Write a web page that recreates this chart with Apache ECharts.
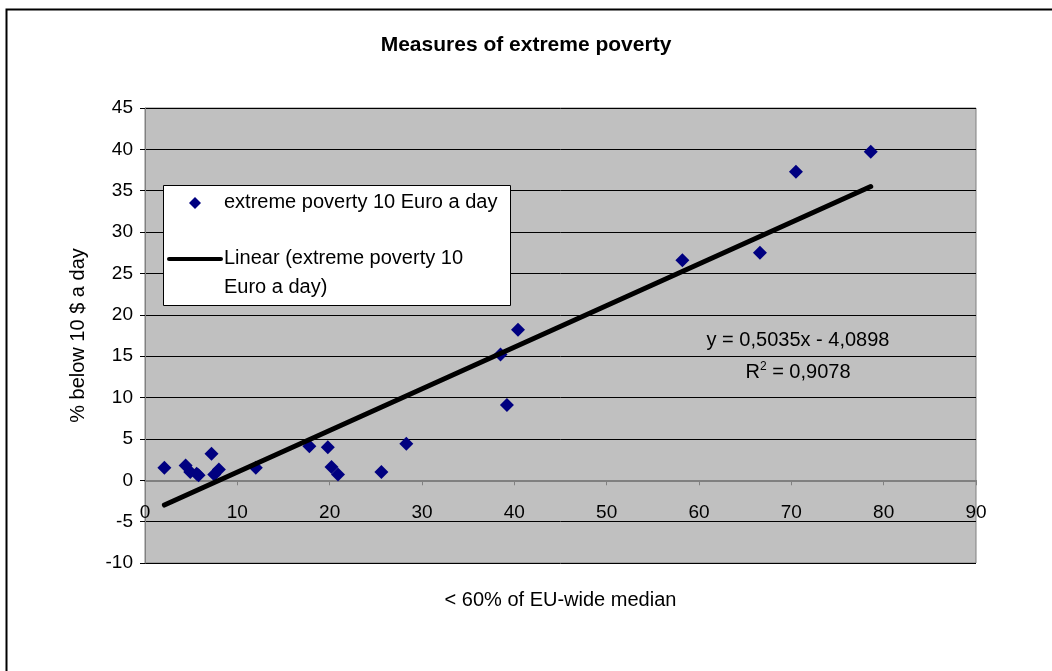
<!DOCTYPE html>
<html>
<head>
<meta charset="utf-8">
<script src="https://cdn.jsdelivr.net/npm/echarts@6/dist/echarts.min.js"></script>
<style>
  html, body { margin: 0; padding: 0; background: #fff; }
  #main { width: 1052px; height: 671px; }
</style>
</head>
<body>
<div id="main"></div>
<script>
// points: x = < 60% of EU-wide median, y = % below 10 $ a day
var povX = [2.1, 4.4, 4.9, 5.6, 5.8, 7.2, 7.5, 8.0, 12.0, 17.8, 19.8, 20.2, 20.9, 25.6, 28.3, 38.5, 39.2, 40.4, 58.2, 66.6, 70.5, 78.6];
var povY = [1.5, 1.8, 1.0, 0.8, 0.6, 3.2, 0.7, 1.3, 1.5, 4.1, 4.0, 1.6, 0.7, 1.0, 4.4, 15.2, 9.1, 18.2, 26.6, 27.5, 37.3, 39.7];
// trendline ends
var trendX = [2.1, 78.6];
var trendY = [-3.0, 35.5];

var font = 'Liberation Sans, Arial, sans-serif';
var pts = [];
for (var i = 0; i < povX.length; i++) pts.push([povX[i], povY[i]]);
var trend = [[trendX[0], trendY[0]], [trendX[1], trendY[1]]];

var myChart = echarts.init(document.getElementById('main'));
var option = {
  backgroundColor: '#fff',
  animation: false,
  title: {
    text: 'Measures of extreme poverty',
    left: 'center',
    top: 30,
    textStyle: { fontFamily: font, fontSize: 21, fontWeight: 'bold', color: '#000' }
  },
  grid: {
    left: 145, top: 108, width: 831, height: 455,
    outerBoundsMode: 'none',
    show: true, backgroundColor: '#c0c0c0', borderColor: '#808080', borderWidth: 1
  },
  xAxis: {
    type: 'value', min: 0, max: 90, interval: 10,
    name: '< 60% of EU-wide median',
    nameLocation: 'middle', nameGap: 27,
    nameTextStyle: { fontFamily: font, fontSize: 20, color: '#000' },
    axisLine: { onZero: true, lineStyle: { color: '#808080', width: 2 } },
    axisTick: { show: true, length: 5, lineStyle: { color: '#808080' } },
    // labels sit next to the zero line, as in the picture
    axisLabel: { margin: -60, fontFamily: font, fontSize: 19, color: '#000' },
    splitLine: { show: false }
  },
  yAxis: {
    type: 'value', min: -10, max: 45, interval: 5,
    name: '% below 10 $ a day',
    nameLocation: 'middle', nameGap: 57, nameRotate: 90,
    nameTextStyle: { fontFamily: font, fontSize: 20, color: '#000' },
    axisLine: { show: true, lineStyle: { color: '#808080', width: 1 } },
    axisTick: { show: true, length: 5, lineStyle: { color: '#000' } },
    axisLabel: { margin: 12, fontFamily: font, fontSize: 19, color: '#000' },
    splitLine: { show: true, lineStyle: { color: '#000', width: 1 } }
  },
  series: [
    {
      name: 'extreme poverty 10 Euro a day',
      type: 'scatter',
      symbol: 'diamond',
      symbolSize: 14,
      itemStyle: { color: '#000080', opacity: 1 },
      data: pts,
      z: 3
    },
    {
      name: 'Linear (extreme poverty 10 Euro a day)',
      type: 'line',
      symbol: 'none',
      lineStyle: { color: '#000', width: 5, cap: 'round' },
      data: trend,
      z: 4
    }
  ],
  graphic: [
    // outer chart frame
    { type: 'rect', left: 4, top: 7, shape: { width: 1060, height: 700 },
      style: { fill: 'none', stroke: '#000', lineWidth: 2 }, silent: true },
    // legend box
    { type: 'rect', left: 163, top: 185, shape: { width: 347, height: 120 },
      style: { fill: '#fff', stroke: '#000', lineWidth: 1 }, z: 10 },
    { type: 'polygon', shape: { points: [[195, 197], [201, 203], [195, 209], [189, 203]] },
      style: { fill: '#000080' }, z: 11 },
    { type: 'text', left: 224, top: 192,
      style: { text: 'extreme poverty 10 Euro a day', font: '20px ' + font, fill: '#000' }, z: 11 },
    { type: 'line', shape: { x1: 169, y1: 259, x2: 221, y2: 259 },
      style: { stroke: '#000', lineWidth: 4, lineCap: 'round' }, z: 11 },
    { type: 'text', left: 224, top: 248,
      style: { text: 'Linear (extreme poverty 10', font: '20px ' + font, fill: '#000' }, z: 11 },
    { type: 'text', left: 224, top: 277,
      style: { text: 'Euro a day)', font: '20px ' + font, fill: '#000' }, z: 11 },
    // trendline equation
    { type: 'text', x: 798, y: 340,
      style: { text: 'y = 0,5035x - 4,0898', font: '20px ' + font, fill: '#000', align: 'center', verticalAlign: 'middle' }, z: 11 },
    { type: 'text', x: 798, y: 372,
      style: { text: 'R{s|2} = 0,9078', font: '20px ' + font, fill: '#000', align: 'center', verticalAlign: 'middle',
        rich: { s: { fontSize: 12, fontFamily: font, verticalAlign: 'top', padding: [0, 0, 10, 0] } } }, z: 11 }
  ]
};
myChart.setOption(option);
</script>
</body>
</html>
